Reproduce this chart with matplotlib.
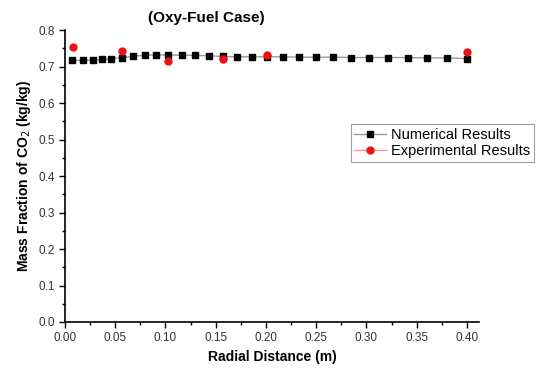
import numpy
from matplotlib import pyplot
from matplotlib.lines import Line2D
from matplotlib.ticker import MultipleLocator, FormatStrFormatter

pyplot.rcParams['font.family'] = ['Liberation Sans', 'DejaVu Sans']

# Numerical results (mass fraction of CO2 vs radial distance).
num_x = [0.007, 0.018, 0.028, 0.037, 0.046, 0.057, 0.068, 0.080, 0.091, 0.103,
         0.116, 0.129, 0.143, 0.157, 0.171, 0.186, 0.201, 0.217, 0.233, 0.250,
         0.267, 0.285, 0.303, 0.321, 0.341, 0.360, 0.380, 0.400]
num_y = [0.717, 0.717, 0.718, 0.720, 0.722, 0.725, 0.729, 0.731, 0.732, 0.732,
         0.731, 0.731, 0.730, 0.728, 0.727, 0.727, 0.727, 0.727, 0.726, 0.726,
         0.726, 0.725, 0.725, 0.725, 0.725, 0.724, 0.724, 0.722]

# Experimental results.
exp_x = [0.008, 0.057, 0.103, 0.157, 0.201, 0.400]
exp_y = [0.754, 0.742, 0.715, 0.722, 0.731, 0.740]

fig = pyplot.figure(figsize=(5.39, 3.68), dpi=100)
ax = fig.add_axes([0.1206, 0.125, 0.768, 0.793])

ax.plot(num_x, num_y, '-', color='#9a9a9a', linewidth=1.0, marker='s',
        markersize=4.5, markerfacecolor='black', markeredgecolor='black',
        label='Numerical Results', zorder=2)
ax.plot(exp_x, exp_y, linestyle='none', marker='o',
        markersize=5, markerfacecolor='#ee1111', markeredgecolor='#ee1111',
        label='Experimental Results', zorder=3)

ax.set_xlim(0, 0.412)
ax.set_ylim(0, 0.8)
ax.xaxis.set_major_locator(MultipleLocator(0.05))
ax.xaxis.set_minor_locator(MultipleLocator(0.025))
ax.yaxis.set_major_locator(MultipleLocator(0.1))
ax.yaxis.set_minor_locator(MultipleLocator(0.05))
ax.xaxis.set_major_formatter(FormatStrFormatter('%.2f'))
ax.yaxis.set_major_formatter(FormatStrFormatter('%.1f'))
ax.tick_params(which='major', direction='out', length=4, width=1, labelsize=8.5,
               labelcolor='#333333')
ax.tick_params(which='minor', direction='out', length=2, width=1)
ax.spines['top'].set_visible(False)
ax.spines['right'].set_visible(False)
ax.spines['left'].set_linewidth(1.2)
ax.spines['bottom'].set_linewidth(1.2)

ax.set_xlabel('Radial Distance (m)', fontsize=10, fontweight='bold')
ax.set_ylabel('Mass Fraction of CO$_2$ (kg/kg)', fontsize=10, fontweight='bold')
fig.text(0.382, 0.951, '(Oxy-Fuel Case)', fontsize=11, fontweight='bold',
         ha='center', va='center')

# Experimental legend entry shows a thin red line.
handles, labels = ax.get_legend_handles_labels()
handles[1] = Line2D([], [], color='#ff9090', linewidth=1.0, marker='o',
                    markersize=5, markerfacecolor='#ee1111', markeredgecolor='#ee1111')
leg = ax.legend(handles, labels, loc='upper left', bbox_to_anchor=(0.69, 0.678),
                fontsize=10.5, frameon=True, fancybox=False, handlelength=2.2,
                borderpad=0.25, labelspacing=0.15, handletextpad=0.3,
                borderaxespad=0)
leg.get_frame().set_edgecolor('#888888')
leg.get_frame().set_linewidth(0.8)

fig.savefig('out.png', dpi=100)
